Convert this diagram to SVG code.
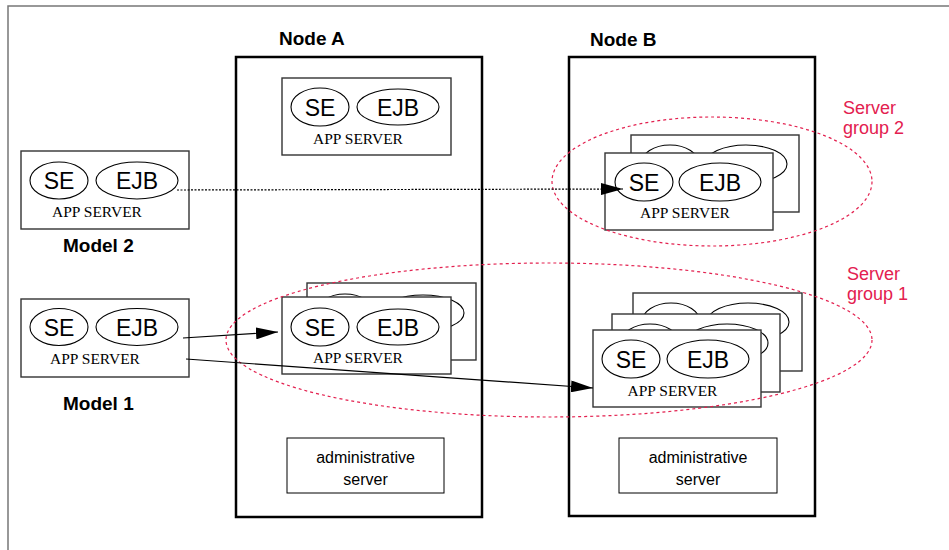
<svg xmlns="http://www.w3.org/2000/svg" width="949" height="550" viewBox="0 0 949 550">
<style>
.frame{fill:#fff;stroke:#777;stroke-width:1.5}
.node{fill:none;stroke:#000;stroke-width:2.5}
.lbl{font-family:"Liberation Sans",Arial,sans-serif;font-weight:bold;font-size:19px;fill:#000}
.as{fill:#fff;stroke:#333;stroke-width:1.4}
.el{fill:#fff;stroke:#000;stroke-width:1.1}
.big{font-family:"Liberation Sans",Arial,sans-serif;font-size:23px;fill:#000;text-anchor:middle}
.srv{font-family:"Liberation Serif","Times New Roman",serif;font-size:15.5px;fill:#000;text-anchor:middle}
.adm{fill:#fff;stroke:#000;stroke-width:1}
.admt{font-family:"Liberation Sans",Arial,sans-serif;font-size:16px;fill:#000;text-anchor:middle}
.grp{fill:none;stroke:#e3204f;stroke-width:1.2;stroke-dasharray:3 3}
.grpt{font-family:"Liberation Sans",Arial,sans-serif;font-size:18px;fill:#e3204f}
.conn{fill:none;stroke:#000;stroke-width:1.2}
</style>
<defs>
<marker id="ah" markerUnits="userSpaceOnUse" markerWidth="22" markerHeight="12" refX="22" refY="6" orient="auto">
<path d="M0,0 L22,6 L0,12 z" fill="#000"/>
</marker>
</defs>
<rect class="frame" x="8" y="6" width="960" height="560"/>

<g id="nodeA">
<rect class="node" x="236" y="57" width="246" height="460"/>
<text class="lbl" x="279" y="45">Node A</text>
</g>
<g id="nodeB">
<rect class="node" x="569" y="57" width="246" height="459"/>
<text class="lbl" x="590" y="46">Node B</text>
</g>

<g id="model2" transform="translate(21,151)">
<rect class="as" x="0" y="0" width="168" height="78"/>
<ellipse class="el" cx="38" cy="29.5" rx="29" ry="18.5"/>
<ellipse class="el" cx="116" cy="29.5" rx="41" ry="18.5"/>
<text class="big" x="38" y="38">SE</text>
<text class="big" x="116" y="38">EJB</text>
<text class="srv" x="76" y="66">APP SERVER</text>
</g>
<text class="lbl" x="63" y="252">Model 2</text>

<g id="model1" transform="translate(21,299)">
<rect class="as" x="0" y="0" width="168" height="78"/>
<ellipse class="el" cx="38" cy="28" rx="29" ry="18.5"/>
<ellipse class="el" cx="116" cy="28" rx="41" ry="18.5"/>
<text class="big" x="38" y="36.5">SE</text>
<text class="big" x="116" y="36.5">EJB</text>
<text class="srv" x="74" y="65">APP SERVER</text>
</g>
<text class="lbl" x="63" y="410">Model 1</text>

<g id="nodeA-top" transform="translate(282,78)">
<rect class="as" x="0" y="0" width="169" height="77"/>
<ellipse class="el" cx="38" cy="29" rx="29" ry="19"/>
<ellipse class="el" cx="116" cy="29" rx="41" ry="18"/>
<text class="big" x="38" y="37.5">SE</text>
<text class="big" x="116" y="37.5">EJB</text>
<text class="srv" x="76" y="66">APP SERVER</text>
</g>

<g id="nodeA-g1-back" transform="translate(307,283)">
<rect class="as" x="0" y="0" width="169" height="77"/>
<ellipse class="el" cx="38" cy="30" rx="29" ry="19"/>
<ellipse class="el" cx="116" cy="30" rx="41" ry="18"/>
</g>
<g id="nodeA-g1" transform="translate(282,297)">
<rect class="as" x="0" y="0" width="169" height="77"/>
<ellipse class="el" cx="38" cy="30" rx="29" ry="19"/>
<ellipse class="el" cx="116" cy="30" rx="41" ry="18"/>
<text class="big" x="38" y="38.5">SE</text>
<text class="big" x="116" y="38.5">EJB</text>
<text class="srv" x="76" y="66">APP SERVER</text>
</g>

<g id="nodeB-g2-back" transform="translate(631,135)">
<rect class="as" x="0" y="0" width="168" height="77"/>
<ellipse class="el" cx="39" cy="29" rx="29" ry="19"/>
<ellipse class="el" cx="115" cy="29" rx="41" ry="19"/>
</g>
<g id="nodeB-g2" transform="translate(605,153)">
<rect class="as" x="0" y="0" width="168" height="77"/>
<ellipse class="el" cx="39" cy="29" rx="29" ry="19"/>
<ellipse class="el" cx="115" cy="29" rx="41" ry="19"/>
<text class="big" x="39" y="37.5">SE</text>
<text class="big" x="115" y="37.5">EJB</text>
<text class="srv" x="80" y="65">APP SERVER</text>
</g>

<g id="nodeB-g1-back" transform="translate(633,293)">
<rect class="as" x="0" y="0" width="169" height="78"/>
<ellipse class="el" cx="38" cy="29" rx="29" ry="19"/>
<ellipse class="el" cx="115" cy="29" rx="41" ry="19"/>
</g>
<g id="nodeB-g1-mid" transform="translate(612,314)">
<rect class="as" x="0" y="0" width="168" height="78"/>
<ellipse class="el" cx="38" cy="29" rx="29" ry="19"/>
<ellipse class="el" cx="115" cy="29" rx="41" ry="19"/>
</g>
<g id="nodeB-g1" transform="translate(593,330)">
<rect class="as" x="0" y="0" width="168" height="77"/>
<ellipse class="el" cx="38" cy="29" rx="29" ry="19"/>
<ellipse class="el" cx="115" cy="29" rx="41" ry="19"/>
<text class="big" x="38" y="37.5">SE</text>
<text class="big" x="115" y="37.5">EJB</text>
<text class="srv" x="79.5" y="66">APP SERVER</text>
</g>

<g id="adminA">
<rect class="adm" x="287" y="438" width="157" height="55"/>
<text class="admt" x="365.5" y="463">administrative</text>
<text class="admt" x="365.5" y="485">server</text>
</g>
<g id="adminB">
<rect class="adm" x="619" y="438" width="158" height="55"/>
<text class="admt" x="698" y="463">administrative</text>
<text class="admt" x="698" y="485">server</text>
</g>

<g id="group2">
<ellipse class="grp" cx="712" cy="181.5" rx="160" ry="64.5"/>
<text class="grpt" x="843" y="114">Server</text>
<text class="grpt" x="843" y="134">group 2</text>
</g>
<g id="group1">
<ellipse class="grp" cx="549" cy="340" rx="323" ry="77"/>
<text class="grpt" x="847" y="280">Server</text>
<text class="grpt" x="847" y="300">group 1</text>
</g>

<g id="connectors">
<line class="conn" x1="177" y1="190" x2="623" y2="189" stroke-width="1" stroke-dasharray="2 1.5" marker-end="url(#ah)"/>
<line class="conn" x1="183" y1="338" x2="278" y2="332" marker-end="url(#ah)"/>
<line class="conn" x1="186" y1="359" x2="593" y2="388" marker-end="url(#ah)"/>
</g>
</svg>
